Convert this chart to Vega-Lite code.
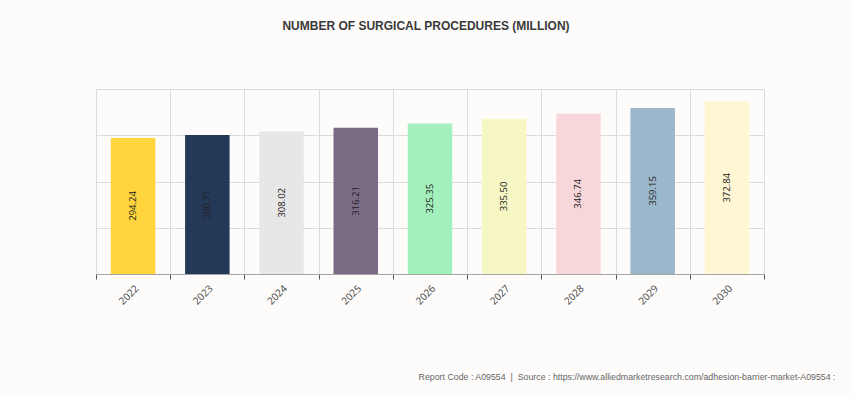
{
  "$schema": "https://vega.github.io/schema/vega-lite/v6.json",
  "width": 668,
  "height": 185,
  "autosize": {"type": "none"},
  "padding": {"left": 96, "top": 89, "right": 88, "bottom": 122},
  "background": "#fdfcfb",
  "title": {
    "text": "NUMBER OF SURGICAL PROCEDURES (MILLION)",
    "font": "Liberation Sans",
    "fontSize": 12,
    "fontWeight": "bold",
    "color": "#3a3a3a",
    "anchor": "middle",
    "dx": -4,
    "offset": 56
  },
  "data": {
    "values": [
      {"year": "2022", "value": 294.24, "color": "#ffd43d"},
      {"year": "2023", "value": 300.71, "color": "#243858"},
      {"year": "2024", "value": 308.02, "color": "#e7e7e7"},
      {"year": "2025", "value": 316.21, "color": "#7b6c85"},
      {"year": "2026", "value": 325.35, "color": "#a3f0bd"},
      {"year": "2027", "value": 335.50, "color": "#f6f7c5"},
      {"year": "2028", "value": 346.74, "color": "#f8d7da"},
      {"year": "2029", "value": 359.15, "color": "#9bb7cc"},
      {"year": "2030", "value": 372.84, "color": "#fff6d4"}
    ]
  },
  "config": {
    "view": {"stroke": "#d9d9d9"},
    "font": "Open Sans",
    "axisY": {
      "title": null,
      "labels": false,
      "ticks": false,
      "domain": false,
      "values": [0, 100, 200, 300, 400],
      "gridColor": "#dcdcdc"
    }
  },
  "encoding": {
    "x": {
      "field": "year",
      "type": "ordinal",
      "scale": {"paddingInner": 0, "paddingOuter": 0},
      "axis": {
        "title": "Report Code : A09554 \u00a0|\u00a0 Source : https://www.alliedmarketresearch.com/adhesion-barrier-market-A09554 :",
        "titleFont": "Liberation Sans",
        "titleFontSize": 8.8,
        "titleFontWeight": "normal",
        "titleColor": "#666666",
        "titleAnchor": "end",
        "titleAlign": "right",
        "titleBaseline": "alphabetic",
        "titleX": 739,
        "titleY": 105,
        "tickBand": "extent",
        "grid": true,
        "gridColor": "#dcdcdc",
        "domainColor": "#a6a6a6",
        "tickColor": "#555555",
        "tickSize": 5,
        "labelAngle": -45,
        "labelFontSize": 10,
        "labelColor": "#444444",
        "labelPadding": 4
      }
    },
    "y": {
      "field": "value",
      "type": "quantitative",
      "scale": {"domain": [0, 400], "nice": false}
    }
  },
  "layer": [
    {
      "mark": {"type": "bar", "width": {"band": 0.6}},
      "encoding": {
        "color": {"field": "color", "type": "nominal", "scale": null}
      }
    },
    {
      "transform": [{"calculate": "datum.value / 2", "as": "mid"}],
      "mark": {
        "type": "text",
        "angle": 270,
        "fontSize": 9.5,
        "color": "#222222",
        "align": "center",
        "baseline": "middle",
        "font": "Open Sans"
      },
      "encoding": {
        "y": {"field": "mid", "type": "quantitative"},
        "text": {"field": "value", "type": "quantitative", "format": ".2f"}
      }
    }
  ]
}
